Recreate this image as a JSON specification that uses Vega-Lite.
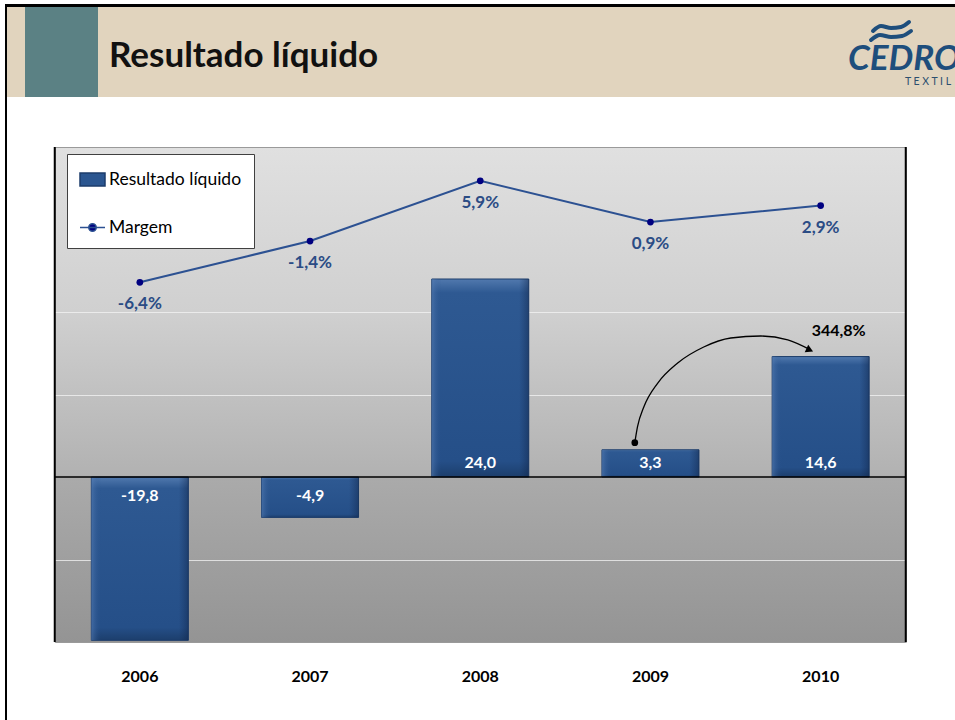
{
  "$schema": "https://vega.github.io/schema/vega-lite/v6.json",
  "background": "white",
  "padding": {"left": 5, "top": 4, "right": 0, "bottom": 0},
  "config": {
    "view": {"stroke": null},
    "font": "Lato",
    "locale": {"number": {"decimal": ",", "thousands": ".", "grouping": [3], "currency": ["R$ ", ""], "minus": "-"}}
  },
  "datasets": {
    "anos": [
      {"ano": "2006", "resultado": -19.8, "margem": -0.064},
      {"ano": "2007", "resultado": -4.9, "margem": -0.014},
      {"ano": "2008", "resultado": 24.0, "margem": 0.059},
      {"ano": "2009", "resultado": 3.3, "margem": 0.009},
      {"ano": "2010", "resultado": 14.6, "margem": 0.029}
    ],
    "series": [
      {"serie": "Resultado líquido"},
      {"serie": "Margem"}
    ],
    "seta": [
      {"x": 3.408, "y": 4.16},
      {"x": 3.424, "y": 6.10},
      {"x": 3.461, "y": 8.48},
      {"x": 3.543, "y": 11.39},
      {"x": 3.660, "y": 13.82},
      {"x": 3.813, "y": 15.76},
      {"x": 3.972, "y": 16.85},
      {"x": 4.148, "y": 17.09},
      {"x": 4.307, "y": 16.61},
      {"x": 4.440, "y": 15.40}
    ],
    "ondas": [
      {"onda": "a", "x": 866, "y": 27},
      {"onda": "a", "x": 874, "y": 22},
      {"onda": "a", "x": 884, "y": 24},
      {"onda": "a", "x": 894, "y": 23},
      {"onda": "a", "x": 902, "y": 18},
      {"onda": "b", "x": 864, "y": 36},
      {"onda": "b", "x": 873, "y": 31},
      {"onda": "b", "x": 884, "y": 33},
      {"onda": "b", "x": 895, "y": 32},
      {"onda": "b", "x": 904, "y": 27}
    ]
  },
  "spacing": 0,
  "hconcat": [
    {
      "width": 2,
      "height": 716,
      "view": {"fill": "#000000", "stroke": null},
      "data": {"values": [{}]},
      "mark": {"type": "rect", "color": "#000000"}
    },
    {
      "spacing": 48,
      "center": true,
      "vconcat": [
        {
          "width": 948,
          "height": 93,
          "view": {"fill": "#e1d4be", "stroke": null},
          "data": {"values": [{}]},
          "layer": [
            {
              "mark": {"type": "rect", "color": "#000000"},
              "encoding": {
                "x": {"datum": 0, "type": "quantitative", "scale": {"domain": [0, 948], "nice": false, "zero": false}, "axis": null},
                "x2": {"datum": 948},
                "y": {"datum": 0, "type": "quantitative", "scale": {"domain": [0, 93], "nice": false, "zero": false, "reverse": true}, "axis": null},
                "y2": {"datum": 3}
              }
            },
            {
              "mark": {"type": "rect", "color": "#5b8184"},
              "encoding": {
                "x": {"datum": 18, "type": "quantitative"},
                "x2": {"datum": 91},
                "y": {"datum": 3, "type": "quantitative"},
                "y2": {"datum": 93}
              }
            },
            {
              "mark": {"type": "text", "align": "left", "baseline": "alphabetic", "font": "Lato", "fontSize": 35, "fontWeight": "bold", "color": "#111111"},
              "encoding": {
                "x": {"datum": 102, "type": "quantitative"},
                "y": {"datum": 63, "type": "quantitative"},
                "text": {"value": "Resultado líquido"}
              }
            },
            {
              "mark": {"type": "text", "align": "left", "baseline": "alphabetic", "font": "Lato", "fontSize": 35, "fontWeight": "bold", "fontStyle": "italic", "color": "#1e4e7c", "clip": true},
              "encoding": {
                "x": {"datum": 841, "type": "quantitative"},
                "y": {"datum": 66, "type": "quantitative"},
                "text": {"value": "CEDRO"}
              }
            },
            {
              "mark": {"type": "text", "align": "left", "baseline": "middle", "font": "Lato", "fontSize": 10.5, "color": "#2c4f6e", "clip": true},
              "encoding": {
                "x": {"datum": 898, "type": "quantitative"},
                "y": {"datum": 78, "type": "quantitative"},
                "text": {"value": "T E X T I L"}
              }
            },
            {
              "data": {"name": "ondas"},
              "mark": {"type": "line", "color": "#1e4e7c", "strokeWidth": 4, "interpolate": "monotone", "strokeCap": "round"},
              "encoding": {
                "x": {"field": "x", "type": "quantitative"},
                "y": {"field": "y", "type": "quantitative"},
                "detail": {"field": "onda"},
                "order": {"field": "x"}
              }
            }
          ]
        },
        {
          "width": 851,
          "height": 495,
          "view": {
            "fill": {
              "gradient": "linear", "x1": 0, "y1": 0, "x2": 0, "y2": 1,
              "stops": [
                {"offset": 0, "color": "#e0e0e0"},
                {"offset": 0.33, "color": "#d0d0d0"},
                {"offset": 0.66, "color": "#b2b2b2"},
                {"offset": 0.67, "color": "#aaaaaa"},
                {"offset": 1, "color": "#949494"}
              ]
            },
            "stroke": "#9a9a9a",
            "strokeWidth": 1
          },
          "data": {"name": "anos"},
          "layer": [
            {
              "layer": [
                {
                  "mark": {
                    "type": "bar",
                    "strokeWidth": 1,
                    "stroke": "#1d3d6b",
                    "fill": {
                      "gradient": "linear", "x1": 0, "y1": 0, "x2": 0, "y2": 1,
                      "stops": [
                        {"offset": 0, "color": "#5179ae"},
                        {"offset": 0.07, "color": "#2e5992"},
                        {"offset": 0.92, "color": "#254f88"},
                        {"offset": 1, "color": "#1c3e6c"}
                      ]
                    }
                  },
                  "encoding": {
                    "x": {
                      "field": "ano", "type": "nominal", "sort": null,
                      "scale": {"paddingInner": 0.43, "paddingOuter": 0.215},
                      "axis": {"title": null, "domain": false, "ticks": false, "labelPadding": 26, "labelFont": "Lato", "labelFontSize": 16, "labelFontWeight": "bold", "labelColor": "#000000", "labelAngle": 0}
                    },
                    "y": {
                      "field": "resultado", "type": "quantitative",
                      "scale": {"domain": [-20, 40], "nice": false},
                      "axis": {"title": null, "labels": false, "ticks": false, "domain": false, "grid": true, "values": [-10, 10, 20], "gridColor": "#f4f4f4", "gridOpacity": 0.75, "gridWidth": 1.2, "minExtent": 0}
                    }
                  }
                },
                {
                  "mark": {
                    "type": "bar",
                    "strokeWidth": 0,
                    "fill": {
                      "gradient": "linear", "x1": 0, "y1": 0, "x2": 1, "y2": 0,
                      "stops": [
                        {"offset": 0, "color": "rgba(90,130,185,0.55)"},
                        {"offset": 0.1, "color": "rgba(40,80,140,0)"},
                        {"offset": 0.9, "color": "rgba(20,40,80,0)"},
                        {"offset": 1, "color": "rgba(15,35,70,0.45)"}
                      ]
                    }
                  },
                  "encoding": {
                    "x": {"field": "ano", "type": "nominal", "sort": null},
                    "y": {"field": "resultado", "type": "quantitative"}
                  }
                },
                {
                  "transform": [{"filter": "datum.resultado > 0"}],
                  "mark": {"type": "text", "baseline": "middle", "dy": -14, "font": "Lato", "fontSize": 16, "fontWeight": "bold", "color": "#ffffff"},
                  "encoding": {
                    "x": {"field": "ano", "type": "nominal", "sort": null},
                    "y": {"datum": 0, "type": "quantitative"},
                    "text": {"field": "resultado", "type": "quantitative", "format": ".1f"}
                  }
                },
                {
                  "transform": [{"filter": "datum.resultado < 0"}],
                  "mark": {"type": "text", "baseline": "middle", "dy": 19, "font": "Lato", "fontSize": 16, "fontWeight": "bold", "color": "#ffffff"},
                  "encoding": {
                    "x": {"field": "ano", "type": "nominal", "sort": null},
                    "y": {"datum": 0, "type": "quantitative"},
                    "text": {"field": "resultado", "type": "quantitative", "format": ".1f"}
                  }
                }
              ]
            },
            {
              "layer": [
                {
                  "mark": {"type": "line", "color": "#2c5192", "strokeWidth": 2},
                  "encoding": {
                    "x": {"field": "ano", "type": "nominal", "sort": null, "scale": {"paddingInner": 0.43, "paddingOuter": 0.215}, "axis": null},
                    "y": {"field": "margem", "type": "quantitative", "scale": {"domain": [-0.5, 0.1], "nice": false}, "axis": null}
                  }
                },
                {
                  "mark": {"type": "point", "filled": true, "color": "#000080", "size": 45, "opacity": 1},
                  "encoding": {
                    "x": {"field": "ano", "type": "nominal", "sort": null},
                    "y": {"field": "margem", "type": "quantitative"}
                  }
                },
                {
                  "mark": {"type": "text", "baseline": "middle", "dy": 22, "font": "Lato", "fontSize": 17, "fontWeight": "bold", "color": "#2b4c85"},
                  "encoding": {
                    "x": {"field": "ano", "type": "nominal", "sort": null},
                    "y": {"field": "margem", "type": "quantitative"},
                    "text": {"field": "margem", "type": "quantitative", "format": ".1%"}
                  }
                }
              ]
            },
            {
              "layer": [
                {
                  "data": {"name": "seta"},
                  "mark": {"type": "line", "color": "#000000", "strokeWidth": 1.3, "interpolate": "monotone"},
                  "encoding": {
                    "x": {"field": "x", "type": "quantitative", "scale": {"domain": [0, 5], "nice": false, "zero": false}, "axis": null},
                    "y": {"field": "y", "type": "quantitative", "scale": {"domain": [-20, 40], "nice": false}, "axis": null},
                    "order": {"field": "x"}
                  }
                },
                {
                  "data": {"values": [{}]},
                  "mark": {"type": "point", "shape": "triangle-right", "angle": 25, "filled": true, "color": "#000000", "size": 70, "opacity": 1},
                  "encoding": {
                    "x": {"datum": 4.436, "type": "quantitative"},
                    "y": {"datum": 15.39, "type": "quantitative"}
                  }
                },
                {
                  "data": {"values": [{}]},
                  "mark": {"type": "point", "filled": true, "color": "#000000", "size": 45, "opacity": 1},
                  "encoding": {
                    "x": {"datum": 3.408, "type": "quantitative"},
                    "y": {"datum": 4.16, "type": "quantitative"}
                  }
                },
                {
                  "data": {"values": [{}]},
                  "mark": {"type": "text", "baseline": "middle", "font": "Lato", "fontSize": 16, "fontWeight": "bold", "color": "#000000"},
                  "encoding": {
                    "x": {"datum": 4.606, "type": "quantitative"},
                    "y": {"datum": 17.7, "type": "quantitative"},
                    "text": {"value": "344,8%"}
                  }
                },
                {
                  "data": {"values": [{}]},
                  "mark": {"type": "rule", "color": "#000000", "strokeWidth": 1.5},
                  "encoding": {"y": {"datum": 0, "type": "quantitative"}}
                },
                {
                  "data": {"values": [{}]},
                  "mark": {"type": "rule", "color": "#000000", "strokeWidth": 2},
                  "encoding": {"x": {"datum": 0, "type": "quantitative"}}
                },
                {
                  "data": {"values": [{}]},
                  "mark": {"type": "rule", "color": "#000000", "strokeWidth": 2},
                  "encoding": {"x": {"datum": 5, "type": "quantitative"}}
                },
                {
                  "data": {"name": "series"},
                  "mark": {"type": "point", "filled": true, "opacity": 1, "clip": true, "strokeWidth": 1.5},
                  "encoding": {
                    "x": {"datum": 1, "type": "quantitative"},
                    "y": {"datum": 100, "type": "quantitative"},
                    "shape": {
                      "field": "serie", "type": "nominal", "sort": null,
                      "scale": {"domain": ["Resultado líquido", "Margem"], "range": ["M-1,-0.52L1,-0.52L1,0.52L-1,0.52Z", "M-1,0L1,0M-0.3,0A0.3,0.3 0 1,0 0.3,0A0.3,0.3 0 1,0 -0.3,0"]},
                      "legend": {
                        "title": null,
                        "orient": "none",
                        "legendX": 62,
                        "legendY": 150,
                        "fillColor": "#ffffff",
                        "strokeColor": "#404040",
                        "padding": 12,
                        "rowPadding": 25,
                        "symbolSize": 625,
                        "symbolStrokeWidth": 1.5,
                        "labelFont": "Lato",
                        "labelFontSize": 17.5,
                        "labelColor": "#000000",
                        "labelOffset": 3,
                        "labelLimit": 400
                      }
                    },
                    "fill": {
                      "field": "serie", "type": "nominal", "sort": null,
                      "scale": {"domain": ["Resultado líquido", "Margem"], "range": ["#2b5690", "#000080"]},
                      "legend": {
                        "title": null,
                        "orient": "none",
                        "legendX": 62,
                        "legendY": 150,
                        "fillColor": "#ffffff",
                        "strokeColor": "#404040",
                        "padding": 12,
                        "rowPadding": 25,
                        "symbolSize": 625,
                        "symbolStrokeWidth": 1.5,
                        "labelFont": "Lato",
                        "labelFontSize": 17.5,
                        "labelColor": "#000000",
                        "labelOffset": 3,
                        "labelLimit": 400
                      }
                    },
                    "stroke": {
                      "field": "serie", "type": "nominal", "sort": null,
                      "scale": {"domain": ["Resultado líquido", "Margem"], "range": ["#1d3d6b", "#2c5192"]},
                      "legend": {
                        "title": null,
                        "orient": "none",
                        "legendX": 62,
                        "legendY": 150,
                        "fillColor": "#ffffff",
                        "strokeColor": "#404040",
                        "padding": 12,
                        "rowPadding": 25,
                        "symbolSize": 625,
                        "symbolStrokeWidth": 1.5,
                        "labelFont": "Lato",
                        "labelFontSize": 17.5,
                        "labelColor": "#000000",
                        "labelOffset": 3,
                        "labelLimit": 400
                      }
                    }
                  }
                }
              ]
            }
          ],
          "resolve": {"scale": {"x": "independent", "y": "independent"}}
        }
      ]
    }
  ]
}
